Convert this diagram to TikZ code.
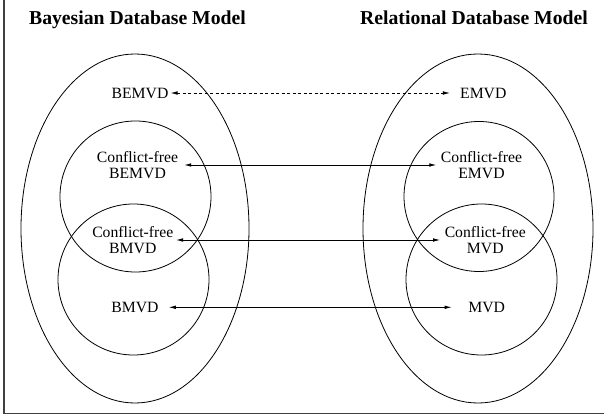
\documentclass[tikz,border=0pt]{standalone}
\usepackage{fontspec}
\setmainfont{Liberation Serif}
\usetikzlibrary{arrows.meta}
\begin{document}
\begin{tikzpicture}[x=1pt,y=-1pt,
  set/.style={draw=black,line width=0.8pt},
  lbl/.style={inner sep=0pt,align=center,font=\fontsize{15.7}{15.6}\selectfont},
  ttl/.style={inner sep=0pt,anchor=base,font=\fontsize{19.7}{22}\selectfont\bfseries},
  link/.style={line width=0.8pt,{Latex[length=7pt,width=3.6pt]}-{Latex[length=7pt,width=3.6pt]}},
  frm/.style={draw=black!75,line width=1.1pt}]
\useasboundingbox (0,0) rectangle (604,417);
% frame
\coordinate (ftop) at (4,0);
\coordinate (fcorner) at (4,413.5);
\coordinate (fright) at (604,413.5);
\draw[frm] (ftop) -- (fcorner) -- (fright);
% titles
\node[ttl] (tb) at (137.5,25) {Bayesian Database Model};
\node[ttl] (tr) at (474,25) {Relational Database Model};
% sets
\draw[set] (135,228.5) ellipse [x radius=114, y radius=174.5];
\draw[set] (478,228.5) ellipse [x radius=115, y radius=174.5];
\draw[set] (135.5,196.5) circle [radius=75.5];
\draw[set] (133.5,279.5) circle [radius=75.5];
\draw[set] (479,196.5) circle [radius=75];
\draw[set] (481.5,279.5) circle [radius=75.5];
% labels
\node[lbl] (bemvd) at (140,93) {BEMVD};
\node[lbl] (emvd) at (483.3,93) {EMVD};
\node[lbl] (cfbemvd) at (137.5,165) {Conflict-free\\BEMVD};
\node[lbl] (cfemvd) at (481.5,165) {Conflict-free\\EMVD};
\node[lbl] (cfbmvd) at (132.8,240) {Conflict-free\\BMVD};
\node[lbl] (cfmvd) at (485.3,240) {Conflict-free\\MVD};
\node[lbl] (bmvd) at (135,307.3) {BMVD};
\node[lbl] (mvd) at (486.7,307.3) {MVD};
% links
\draw[link,dash pattern=on 3pt off 2.5pt] ([xshift=2]bemvd.east) -- ([xshift=-10]emvd.west);
\draw[link] ([xshift=6]cfbemvd.east) -- ([xshift=-4.5]cfemvd.west);
\draw[link] ([xshift=2.5]cfbmvd.east) -- ([xshift=-4.5]cfmvd.west);
\draw[link] ([xshift=10]bmvd.east) -- ([xshift=-16.5]mvd.west);
\end{tikzpicture}
\end{document}
